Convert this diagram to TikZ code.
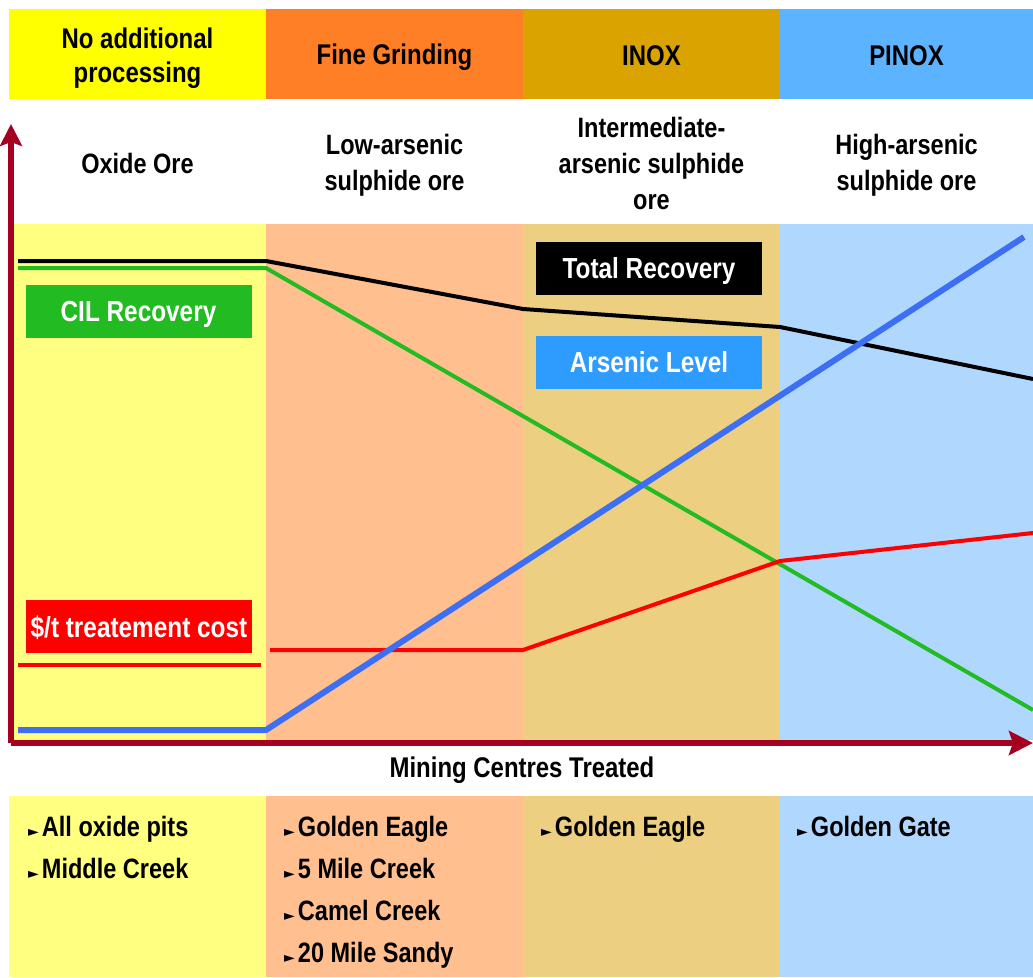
\documentclass[tikz,border=0pt]{standalone}
\usepackage{fontspec}
\setmainfont{Liberation Sans}[FakeStretch=0.84]
\newfontfamily\dejavu{DejaVu Sans}
\usetikzlibrary{arrows.meta}
\definecolor{hyel}{HTML}{FFFF00}
\definecolor{hora}{HTML}{FF7F27}
\definecolor{hgold}{HTML}{DAA300}
\definecolor{hblue}{HTML}{5CB3FF}
\definecolor{cyel}{HTML}{FFFF80}
\definecolor{cora}{HTML}{FFBF8F}
\definecolor{cgold}{HTML}{ECCF80}
\definecolor{cblue}{HTML}{B0D8FF}
\definecolor{axisred}{HTML}{A50021}
\definecolor{cilgreen}{HTML}{22BB22}
\definecolor{arsblue}{HTML}{2E9BFF}
\definecolor{linblue}{HTML}{3D6FF5}
\newcommand\bul{{\dejavu\fontsize{14}{14}\selectfont ►}\hspace{3pt}}
\tikzset{
  hdr/.style={font=\fontsize{28.5}{34}\selectfont\bfseries, align=center, text=black},
  ore/.style={font=\fontsize{28}{36}\selectfont\bfseries, align=center, text=black},
  lbl/.style={font=\fontsize{29}{30}\selectfont\bfseries, text=white, text height=21pt, text depth=0pt, minimum width=226pt, minimum height=53pt, inner sep=0pt},
  itm/.style={font=\fontsize{28}{30}\selectfont\bfseries, text height=20pt, text depth=0pt, anchor=west, inner sep=0pt},
  curve/.style={line width=4pt, line join=round},
}
\begin{document}
\begin{tikzpicture}[x=1pt,y=-1pt]
\useasboundingbox (0,0) rectangle (1033,977);
% header band
\fill[hyel]  (9,9) rectangle (266,99);
\fill[hora]  (266,9) rectangle (523,99);
\fill[hgold] (523,9) rectangle (780,99);
\fill[hblue] (780,9) rectangle (1033,99);
% chart band
\fill[cyel]  (11,224) rectangle (266,740);
\fill[cora]  (266,224) rectangle (523,740);
\fill[cgold] (523,224) rectangle (780,740);
\fill[cblue] (780,224) rectangle (1033,740);
% bottom band
\fill[cyel]  (9,796) rectangle (266,977);
\fill[cora]  (266,796) rectangle (523,977);
\fill[cgold] (523,796) rectangle (780,977);
\fill[cblue] (780,796) rectangle (1033,977);
% header texts
\node[hdr] (h1) at (137.5,58) {No additional\\processing};
\node[hdr] (h2) at (394.5,57) {Fine Grinding};
\node[hdr] (h3) at (651.5,56) {INOX};
\node[hdr] (h4) at (906.5,56) {PINOX};
% ore types
\node[ore] (o1) at (137.5,163) {Oxide Ore};
\node[ore] (o2) at (394.5,165) {Low-arsenic\\sulphide ore};
\node[ore] (o3) at (651.5,163) {Intermediate-\\arsenic sulphide\\ore};
\node[ore] (o4) at (906.5,165) {High-arsenic\\sulphide ore};
% curves
\coordinate (b0) at (18,261); \coordinate (b1) at (266,261); \coordinate (b2) at (523,309);
\coordinate (b3) at (780,327); \coordinate (b4) at (1033,379);
\draw[curve, black] (b0) -- (b1) -- (b2) -- (b3) -- (b4);
\coordinate (g0) at (18,268); \coordinate (g1) at (266,268); \coordinate (g2) at (1033,710);
\draw[curve, cilgreen] (g0) -- (g1) -- (g2);
\coordinate (r0) at (18,665); \coordinate (r1) at (261,665);
\draw[curve, red] (r0) -- (r1);
\coordinate (r2) at (270,650); \coordinate (r3) at (523,650); \coordinate (r4) at (780,561); \coordinate (r5) at (1033,533);
\draw[curve, red] (r2) -- (r3) -- (r4) -- (r5);
\coordinate (a0) at (18,730); \coordinate (a1) at (266,730); \coordinate (a2) at (1024,237);
\draw[line width=6pt, linblue, line join=round] (a0) -- (a1) -- (a2);
% axes
\coordinate (org) at (11,743); \coordinate (ytop) at (11,124); \coordinate (xend) at (1033,743);
\draw[axisred, line width=6pt, -{Stealth[length=22pt,width=22pt,inset=4pt]}] (org) -- (ytop);
\draw[axisred, line width=6pt, -{Stealth[length=24pt,width=24pt,inset=4pt]}] (org) -- (xend);
% labels
\node[lbl, fill=cilgreen] (lcil) at (138.5,311) {CIL Recovery};
\node[lbl, fill=black] (ltot) at (649,268) {Total Recovery};
\node[lbl, fill=arsblue] (lars) at (649,362) {Arsenic Level};
\node[lbl, fill=red] (lcost) at (139,626.5) {\$/t treatement cost};
\node[font=\fontsize{28.5}{30}\selectfont\bfseries] (xlab) at (522,770) {Mining Centres Treated};
% lists
\node[itm] (i1) at (28,826) {\bul All oxide pits};
\node[itm] (i2) at (28,868) {\bul Middle Creek};
\node[itm] (i3) at (284,826) {\bul Golden Eagle};
\node[itm] (i4) at (284,868) {\bul 5 Mile Creek};
\node[itm] (i5) at (284,910) {\bul Camel Creek};
\node[itm] (i6) at (284,952) {\bul 20 Mile Sandy};
\node[itm] (i7) at (541,826) {\bul Golden Eagle};
\node[itm] (i8) at (797,826) {\bul Golden Gate};
\end{tikzpicture}
\end{document}
